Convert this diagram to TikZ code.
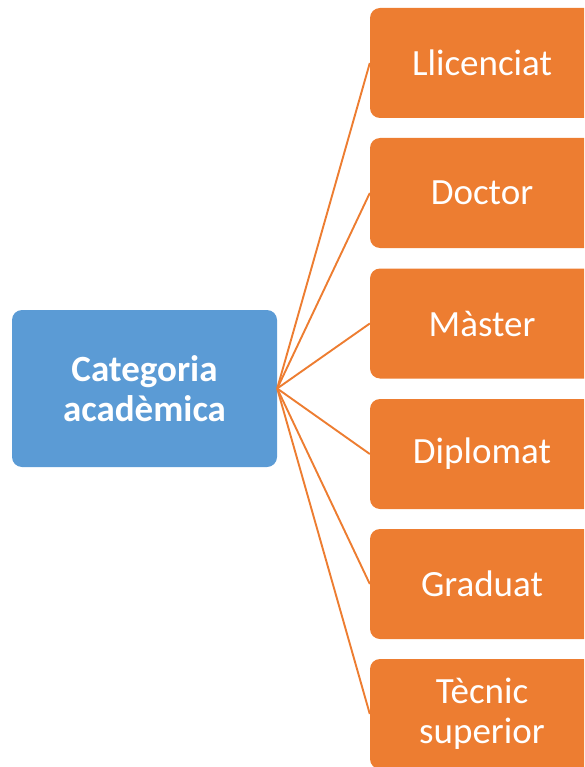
\documentclass[tikz,border=0pt]{standalone}
\usepackage{fontspec}
\setmainfont{Carlito}
\usetikzlibrary{positioning}
\definecolor{catblue}{HTML}{5B9BD5}
\definecolor{catorange}{HTML}{ED7D31}
\tikzset{
    head/.style={rounded corners=10pt, fill=catblue, text=white, font=\fontsize{37}{40}\selectfont\bfseries,
        minimum width=265pt, minimum height=157pt, align=center, inner sep=0},
    leaf/.style={rounded corners=10pt, fill=catorange, text=white, font=\fontsize{37}{40}\selectfont,
        minimum width=224pt, minimum height=110pt, align=center, inner sep=0},
    link/.style={catorange, line width=1.9pt}
}
\begin{document}
\begin{tikzpicture}[x=1pt, y=-1pt]

\useasboundingbox (0,0) rectangle (584,767);
\clip (0,0) rectangle (584,767);

\node [head, name=category] at (144.5,388.5) {Categoria\\acadèmica};

\node [leaf, name=llicenciat] at (482,63) {Llicenciat};
\node [leaf, name=doctor] at (482,193) {Doctor};
\node [leaf, name=master] at (482,323.5) {Màster};
\node [leaf, name=diplomat] at (482,454) {Diplomat};
\node [leaf, name=graduat] at (482,584) {Graduat};
\node [leaf, name=tecnic] at (482,714) {Tècnic\\superior};

%% Links
\draw[link] (category.east) -- (llicenciat.west);
\draw[link] (category.east) -- (doctor.west);
\draw[link] (category.east) -- (master.west);
\draw[link] (category.east) -- (diplomat.west);
\draw[link] (category.east) -- (graduat.west);
\draw[link] (category.east) -- (tecnic.west);

\end{tikzpicture}
\end{document}
